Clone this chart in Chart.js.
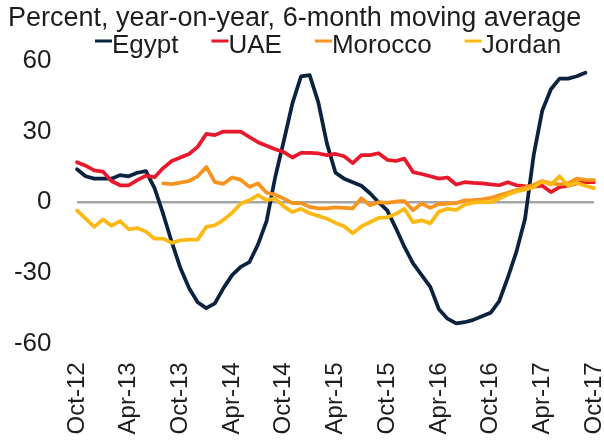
<!DOCTYPE html>
<html>
<head>
<meta charset="utf-8">
<script src="https://cdn.jsdelivr.net/npm/chart.js@4.4.0/dist/chart.umd.min.js"></script>
<style>
  html, body { margin: 0; padding: 0; background: #fff; }
  canvas { display: block; }
</style>
</head>
<body>
<canvas id="chart" width="604" height="442"></canvas>
<script>
const months = [
  "Oct-12", "Nov-12", "Dec-12",
  "Jan-13", "Feb-13", "Mar-13", "Apr-13", "May-13", "Jun-13", "Jul-13", "Aug-13", "Sep-13", "Oct-13", "Nov-13", "Dec-13",
  "Jan-14", "Feb-14", "Mar-14", "Apr-14", "May-14", "Jun-14", "Jul-14", "Aug-14", "Sep-14", "Oct-14", "Nov-14", "Dec-14",
  "Jan-15", "Feb-15", "Mar-15", "Apr-15", "May-15", "Jun-15", "Jul-15", "Aug-15", "Sep-15", "Oct-15", "Nov-15", "Dec-15",
  "Jan-16", "Feb-16", "Mar-16", "Apr-16", "May-16", "Jun-16", "Jul-16", "Aug-16", "Sep-16", "Oct-16", "Nov-16", "Dec-16",
  "Jan-17", "Feb-17", "Mar-17", "Apr-17", "May-17", "Jun-17", "Jul-17", "Aug-17", "Sep-17", "Oct-17"
];

const egypt = [
  14, 11, 10, 10, 10, 11.5, 11, 12.5, 13.2, 6,
  -5, -17, -28, -36.5, -42.5, -45, -43, -36.5, -31, -27.5,
  -25.5, -18, -8, 10.6, 26, 42, 53.5, 54, 42.5, 25,
  12.5, 10, 8.5, 7, 3.8, 0, -3.5, -11, -19, -26,
  -31, -36, -45.5, -49.5, -51.5, -51, -50, -48.5, -47, -42,
  -32, -21, -7, 20, 39, 48, 52.5, 52.5, 53.5, 55, null
];

const uae = [
  17, 15.5, 13.5, 13, 9, 7.2, 7.2, 9.4, 11.3, 10.6,
  14.5, 17.5, 19, 20.5, 23.5, 29, 28.5, 30, 30, 30,
  27.7, 25.5, 24, 22.5, 21.3, 19, 21, 21, 20.7, 20,
  20.5, 19.5, 16.6, 20, 20, 20.8, 18, 17.5, 18.5, 12.8,
  12, 11, 10, 10.5, 7.5, 8.5, 8.2, 8, 7.6, 7.2,
  8.5, 7.2, 6.8, 6.6, 7, 4.3, 6.4, 7, 8, 8.5, 8.5
];

const morocco = [
  null, null, null, null, null, null, null, null, null, null,
  8, 7.7, 8.3, 9, 11, 15, 8.5, 7.8, 10.5, 9.5,
  6.5, 8, 4, 3.2, 1.5, -0.4, -0.4, -2, -2.6, -2.6,
  -2.2, -2.4, -2.6, 1.7, -1.3, 0, -0.3, 0.3, 0.5, -3.4,
  -0.6, -2.4, -0.8, -0.6, -0.4, 0.8, 0.9, 1.2, 1.8, 2.9,
  4, 5.2, 6.3, 7.3, 9, 8, 7.6, 8, 10, 9.5, 9.4
];

const jordan = [
  -3.5, -7, -10.5, -7.3, -10, -8, -11.5, -11, -12.5, -15.5,
  -15.5, -17.3, -16.2, -15.9, -15.9, -10.5, -9.8, -7.5, -4.5, -0.6,
  0.8, 3, 0.9, 1.5, -1.8, -4.2, -2.8, -4.7, -5.8, -7,
  -8.8, -10.2, -13.2, -10.3, -8.5, -6.7, -6.4, -5, -2.8, -8.5,
  -7.7, -9, -4, -2.8, -3.3, -1, -0.2, 0, 0, 1.6,
  3.3, 4.6, 5.3, 6.4, 8.8, 7.5, 11, 7, 8.2, 7, 6
];

const yTicks = [-60, -30, 0, 30, 60];

const FONT = "'Liberation Sans', Arial, sans-serif";
const TEXT = "#1d1d1d";
Chart.defaults.font.family = FONT;
Chart.defaults.color = TEXT;

// legend drawn by hand: short line, text right after it, like the excel legend
const lineLegend = {
  id: "lineLegend",
  afterDraw(chart) {
    const ctx = chart.ctx;
    ctx.save();
    ctx.font = "26px " + FONT;
    ctx.textBaseline = "alphabetic";
    let x = 95;
    chart.data.datasets.forEach((ds) => {
      ctx.fillStyle = ds.borderColor;
      ctx.fillRect(x, 39.5, 17, 3);
      x += 17;
      ctx.fillStyle = TEXT;
      ctx.fillText(ds.label, x, 53);
      x += ctx.measureText(ds.label).width + 33;
    });
    ctx.restore();
  },
};

function series(label, data, color, order) {
  return {
    label: label,
    data: data,
    borderColor: color,
    backgroundColor: color,
    borderWidth: 3.75,
    borderJoinStyle: "round",
    borderCapStyle: "round",
    pointRadius: 0,
    tension: 0,
    spanGaps: false,
    order: order,
  };
}

new Chart(document.getElementById("chart"), {
  type: "line",
  data: {
    labels: months,
    datasets: [
      series("Egypt", egypt, "#0c2340", 3),
      series("UAE", uae, "#e8192c", 2),
      series("Morocco", morocco, "#f7941d", 1),
      series("Jordan", jordan, "#fdb913", 0),
    ],
  },
  options: {
    responsive: false,
    animation: false,
    devicePixelRatio: 1,
    layout: { padding: { left: 8, right: 10, top: 0, bottom: 0 } },
    plugins: {
      legend: { display: false },
      tooltip: { enabled: false },
      title: {
        display: true,
        text: "Percent, year-on-year, 6-month moving average",
        align: "start",
        color: TEXT,
        font: { size: 27, weight: "normal" },
        padding: { top: 2.4, bottom: 26.2 },
      },
    },
    scales: {
      x: {
        offset: false,
        grid: { display: false, drawTicks: false },
        border: { display: false },
        ticks: {
          autoSkip: false,
          minRotation: 90,
          maxRotation: 90,
          padding: 19,
          color: TEXT,
          font: { size: 24 },
          callback: (value, index) => (index % 6 === 0 ? months[index] : ""),
        },
        afterFit: (scale) => {
          scale.paddingLeft = 0;
          scale.paddingRight = 0;
          scale.height = 98.6;
        },
      },
      y: {
        min: -60,
        max: 60,
        afterBuildTicks: (scale) => {
          scale.ticks = yTicks.map((v) => ({ value: v }));
        },
        grid: {
          drawTicks: false,
          lineWidth: 2.5,
          color: (ctx) => (ctx.tick && ctx.tick.value === 0 ? "#a6a6a6" : "rgba(0,0,0,0)"),
        },
        border: { display: false },
        ticks: {
          padding: 25.5,
          color: TEXT,
          font: { size: 26 },
        },
        afterFit: (scale) => {
          scale.width = 69;
        },
      },
    },
  },
  plugins: [lineLegend],
});
</script>
</body>
</html>
